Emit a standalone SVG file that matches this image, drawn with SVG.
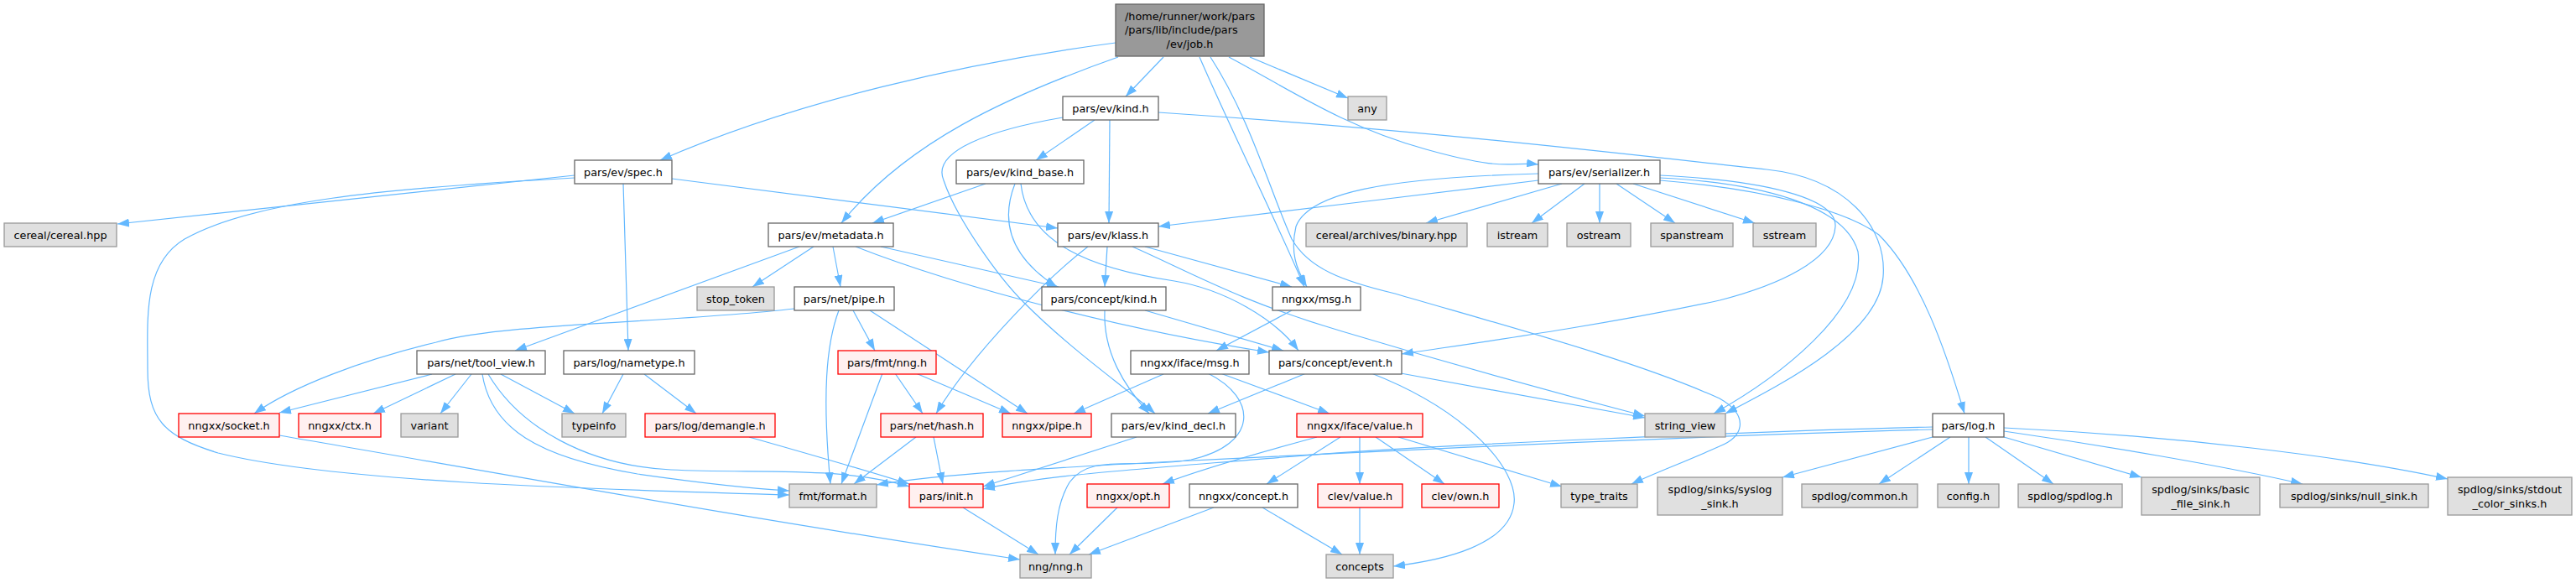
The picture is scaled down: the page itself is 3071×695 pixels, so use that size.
<svg xmlns="http://www.w3.org/2000/svg" width="3071" height="695" viewBox="0 0 3071 695">
<style>
.n rect{stroke-width:1.3}
.w rect{fill:#ffffff;stroke:#666666}
.g rect{fill:#e0e0e0;stroke:#999999}
.r rect{fill:#fff0f0;stroke:#ff0000}
.m rect{fill:#999999;stroke:#666666}
text{font-family:"DejaVu Sans","Liberation Sans",sans-serif;font-size:12.8px;fill:#000000;text-anchor:middle}
.e path{fill:none;stroke:#63b8ff;stroke-width:1.2;marker-end:url(#ah)}
</style>
<defs>
<marker id="ah" viewBox="0 0 14 10" refX="14" refY="5" markerWidth="14" markerHeight="10" orient="auto" markerUnits="userSpaceOnUse">
<path d="M0,0 L14,5 L0,10 z" fill="#63b8ff"/>
</marker>
</defs>
<rect width="3071" height="695" fill="#ffffff"/>
<g id="edges" class="e">
<path d="M1330,51 C1150,75 950,120 787,191"/>
<path d="M1333,68 C1200,115 1080,170 1003,266"/>
<path d="M1387,68 L1342,115"/>
<path d="M1490,68 L1607,117"/>
<path d="M1465,68 C1540,108 1600,150 1700,178 S1800,192 1834,196"/>
<path d="M1430,68 C1470,160 1520,260 1555,342"/>
<path d="M1443,68 C1490,140 1515,230 1540,285 C1560,320 1600,335 1663,350 C1800,390 1950,430 2050,475 C2085,495 2080,520 2050,532 C2010,550 1970,565 1945,577"/>
<path d="M1305,143 L1235,191"/>
<path d="M1323,143 L1322,266"/>
<path d="M1267,140 C1180,155 1110,180 1125,215 C1140,260 1190,330 1220,360 C1280,420 1340,460 1377,493"/>
<path d="M1381,134 C1700,155 1950,185 2106,202 C2200,212 2250,270 2245,330 C2240,400 2120,460 2057,493"/>
<path d="M685,209 L140,267"/>
<path d="M685,212 C450,225 300,240 220,285 C170,315 176,380 176,440 C176,500 195,520 260,540 C400,575 700,583 941,590"/>
<path d="M801,213 L1261,272"/>
<path d="M743,219 L749,418"/>
<path d="M1175,219 L1040,266"/>
<path d="M1210,219 C1190,270 1210,310 1260,342"/>
<path d="M1217,219 C1225,290 1300,320 1400,335 C1460,345 1520,380 1548,418"/>
<path d="M970,294 L897,342"/>
<path d="M993,294 L1002,342"/>
<path d="M953,294 L614,418"/>
<path d="M1050,294 L1262,342"/>
<path d="M1020,294 C1150,345 1350,395 1513,420"/>
<path d="M1297,294 C1250,330 1160,420 1116,493"/>
<path d="M1320,294 L1317,342"/>
<path d="M1365,294 L1540,342"/>
<path d="M1350,294 C1420,325 1480,360 1600,395 C1750,440 1880,475 1961,496"/>
<path d="M1834,215 C1700,232 1500,255 1381,270"/>
<path d="M1834,207 C1650,212 1560,230 1545,270 C1538,300 1545,320 1558,342"/>
<path d="M1862,219 L1700,266"/>
<path d="M1889,219 L1826,266"/>
<path d="M1907,219 L1907,266"/>
<path d="M1927,219 L1997,266"/>
<path d="M1947,219 L2092,266"/>
<path d="M1979,209 C2100,215 2190,235 2188,270 C2186,310 2120,340 2050,358 C1900,390 1750,410 1671,422"/>
<path d="M1979,212 C2100,218 2200,245 2215,300 C2225,370 2120,450 2043,493"/>
<path d="M1979,215 C2100,225 2200,250 2240,280 C2290,330 2320,420 2342,493"/>
<path d="M947,368 C800,385 600,385 520,408 C430,430 350,460 303,493"/>
<path d="M1017,370 L1043,418"/>
<path d="M1037,370 L1225,493"/>
<path d="M1000,370 C985,410 980,470 990,577"/>
<path d="M515,446 L333,492"/>
<path d="M543,446 L445,493"/>
<path d="M562,446 L525,493"/>
<path d="M597,446 L685,493"/>
<path d="M575,446 C585,510 640,545 760,565 C830,575 890,582 941,585"/>
<path d="M582,446 C620,510 700,555 800,560 C900,565 1000,555 1084,580"/>
<path d="M1067,445 L1100,493"/>
<path d="M1092,445 L1205,493"/>
<path d="M1052,445 L1003,577"/>
<path d="M1092,521 L1018,577"/>
<path d="M1113,521 L1124,577"/>
<path d="M743,446 L718,493"/>
<path d="M768,446 L830,493"/>
<path d="M893,521 C960,540 1030,560 1084,577"/>
<path d="M333,519 C600,565 900,620 1216,667"/>
<path d="M1387,446 L1280,493"/>
<path d="M1455,445 L1585,493"/>
<path d="M1440,445 C1500,475 1500,530 1420,548 C1350,560 1300,540 1275,575 C1260,600 1258,630 1258,661"/>
<path d="M1540,370 L1450,418"/>
<path d="M1317,370 C1315,420 1340,460 1370,493"/>
<path d="M1365,370 L1530,418"/>
<path d="M1557,445 L1440,493"/>
<path d="M1670,445 L1961,498"/>
<path d="M1635,445 C1750,490 1810,560 1805,600 C1800,650 1720,668 1661,675"/>
<path d="M1598,521 L1510,577"/>
<path d="M1570,521 C1500,540 1430,560 1386,577"/>
<path d="M1621,521 L1621,577"/>
<path d="M1640,521 L1722,577"/>
<path d="M1667,521 L1862,580"/>
<path d="M1621,605 L1621,661"/>
<path d="M1505,605 L1600,661"/>
<path d="M1447,605 L1298,661"/>
<path d="M1332,605 L1275,661"/>
<path d="M1148,605 L1238,661"/>
<path d="M1355,521 L1172,580"/>
<path d="M2304,509 C2100,514 1700,530 1530,545 C1350,560 1250,566 1172,583"/>
<path d="M2304,512 C2000,520 1600,540 1400,550 C1250,558 1120,565 1045,578"/>
<path d="M2304,521 L2125,569"/>
<path d="M2325,521 L2240,577"/>
<path d="M2347,521 L2347,577"/>
<path d="M2367,521 L2448,577"/>
<path d="M2389,521 L2553,569"/>
<path d="M2389,514 C2500,530 2650,555 2745,577"/>
<path d="M2389,510 C2600,520 2800,545 2918,571"/>
</g>
<g id="job" class="n m"><rect x="1330" y="5" width="177" height="62"/><text x="1341" y="23.5" style="text-anchor:start">/home/runner/work/pars</text><text x="1341" y="40.2" style="text-anchor:start">/pars/lib/include/pars</text><text x="1418.5" y="57">/ev/job.h</text></g>
<g id="kind" class="n w"><rect x="1267" y="115" width="114" height="28"/><text x="1324" y="133.7">pars/ev/kind.h</text></g>
<g id="any" class="n g"><rect x="1607" y="115" width="46" height="28"/><text x="1630" y="133.7">any</text></g>
<g id="spec" class="n w"><rect x="685" y="191" width="116" height="28"/><text x="743" y="209.7">pars/ev/spec.h</text></g>
<g id="kind_base" class="n w"><rect x="1140" y="191" width="152" height="28"/><text x="1216" y="209.7">pars/ev/kind_base.h</text></g>
<g id="serializer" class="n w"><rect x="1834" y="191" width="145" height="28"/><text x="1906.5" y="209.7">pars/ev/serializer.h</text></g>
<g id="cereal" class="n g"><rect x="5" y="266" width="134" height="28"/><text x="72" y="284.7">cereal/cereal.hpp</text></g>
<g id="metadata" class="n w"><rect x="916" y="266" width="149" height="28"/><text x="990.5" y="284.7">pars/ev/metadata.h</text></g>
<g id="klass" class="n w"><rect x="1261" y="266" width="120" height="28"/><text x="1321" y="284.7">pars/ev/klass.h</text></g>
<g id="binary" class="n g"><rect x="1557" y="266" width="192" height="28"/><text x="1653" y="284.7">cereal/archives/binary.hpp</text></g>
<g id="istream" class="n g"><rect x="1773" y="266" width="72" height="28"/><text x="1809" y="284.7">istream</text></g>
<g id="ostream" class="n g"><rect x="1868" y="266" width="76" height="28"/><text x="1906" y="284.7">ostream</text></g>
<g id="spanstream" class="n g"><rect x="1968" y="266" width="98" height="28"/><text x="2017" y="284.7">spanstream</text></g>
<g id="sstream" class="n g"><rect x="2090" y="266" width="75" height="28"/><text x="2127.5" y="284.7">sstream</text></g>
<g id="stop_token" class="n g"><rect x="831" y="342" width="92" height="28"/><text x="877" y="360.7">stop_token</text></g>
<g id="net_pipe" class="n w"><rect x="947" y="342" width="119" height="28"/><text x="1006.5" y="360.7">pars/net/pipe.h</text></g>
<g id="concept_kind" class="n w"><rect x="1242" y="342" width="148" height="28"/><text x="1316" y="360.7">pars/concept/kind.h</text></g>
<g id="nngxx_msg" class="n w"><rect x="1517" y="342" width="105" height="28"/><text x="1569.5" y="360.7">nngxx/msg.h</text></g>
<g id="tool_view" class="n w"><rect x="497" y="418" width="153" height="28"/><text x="573.5" y="436.7">pars/net/tool_view.h</text></g>
<g id="nametype" class="n w"><rect x="672" y="418" width="156" height="28"/><text x="750" y="436.7">pars/log/nametype.h</text></g>
<g id="fmt_nng" class="n r"><rect x="999" y="418" width="117" height="28"/><text x="1057.5" y="436.7">pars/fmt/nng.h</text></g>
<g id="iface_msg" class="n w"><rect x="1348" y="418" width="141" height="28"/><text x="1418.5" y="436.7">nngxx/iface/msg.h</text></g>
<g id="event" class="n w"><rect x="1513" y="418" width="158" height="28"/><text x="1592" y="436.7">pars/concept/event.h</text></g>
<g id="socket" class="n r"><rect x="213" y="493" width="120" height="28"/><text x="273" y="511.7">nngxx/socket.h</text></g>
<g id="ctx" class="n r"><rect x="356" y="493" width="98" height="28"/><text x="405" y="511.7">nngxx/ctx.h</text></g>
<g id="variant" class="n g"><rect x="478" y="493" width="68" height="28"/><text x="512" y="511.7">variant</text></g>
<g id="typeinfo" class="n g"><rect x="670" y="493" width="76" height="28"/><text x="708" y="511.7">typeinfo</text></g>
<g id="demangle" class="n r"><rect x="769" y="493" width="155" height="28"/><text x="846.5" y="511.7">pars/log/demangle.h</text></g>
<g id="hash" class="n r"><rect x="1050" y="493" width="122" height="28"/><text x="1111" y="511.7">pars/net/hash.h</text></g>
<g id="nngxx_pipe" class="n r"><rect x="1195" y="493" width="106" height="28"/><text x="1248" y="511.7">nngxx/pipe.h</text></g>
<g id="kind_decl" class="n w"><rect x="1325" y="493" width="148" height="28"/><text x="1399" y="511.7">pars/ev/kind_decl.h</text></g>
<g id="iface_value" class="n r"><rect x="1546" y="493" width="150" height="28"/><text x="1621" y="511.7">nngxx/iface/value.h</text></g>
<g id="string_view" class="n g"><rect x="1961" y="493" width="96" height="28"/><text x="2009" y="511.7">string_view</text></g>
<g id="log" class="n w"><rect x="2304" y="493" width="85" height="28"/><text x="2346.5" y="511.7">pars/log.h</text></g>
<g id="fmt_format" class="n g"><rect x="941" y="577" width="104" height="28"/><text x="993" y="595.7">fmt/format.h</text></g>
<g id="init" class="n r"><rect x="1084" y="577" width="88" height="28"/><text x="1128" y="595.7">pars/init.h</text></g>
<g id="opt" class="n r"><rect x="1296" y="577" width="98" height="28"/><text x="1345" y="595.7">nngxx/opt.h</text></g>
<g id="nngxx_concept" class="n w"><rect x="1418" y="577" width="129" height="28"/><text x="1482.5" y="595.7">nngxx/concept.h</text></g>
<g id="clev_value" class="n r"><rect x="1571" y="577" width="101" height="28"/><text x="1621.5" y="595.7">clev/value.h</text></g>
<g id="clev_own" class="n r"><rect x="1695" y="577" width="92" height="28"/><text x="1741" y="595.7">clev/own.h</text></g>
<g id="type_traits" class="n g"><rect x="1861" y="577" width="91" height="28"/><text x="1906.5" y="595.7">type_traits</text></g>
<g id="syslog" class="n g"><rect x="1976" y="569" width="149" height="45"/><text x="2050.5" y="588">spdlog/sinks/syslog</text><text x="2050.5" y="604.5">_sink.h</text></g>
<g id="common" class="n g"><rect x="2148" y="577" width="138" height="28"/><text x="2217" y="595.7">spdlog/common.h</text></g>
<g id="config" class="n g"><rect x="2310" y="577" width="73" height="28"/><text x="2346.5" y="595.7">config.h</text></g>
<g id="spdlog" class="n g"><rect x="2406" y="577" width="124" height="28"/><text x="2468" y="595.7">spdlog/spdlog.h</text></g>
<g id="basic_file" class="n g"><rect x="2553" y="569" width="141" height="45"/><text x="2623.5" y="588">spdlog/sinks/basic</text><text x="2623.5" y="604.5">_file_sink.h</text></g>
<g id="null_sink" class="n g"><rect x="2718" y="577" width="177" height="28"/><text x="2806.5" y="595.7">spdlog/sinks/null_sink.h</text></g>
<g id="stdout" class="n g"><rect x="2918" y="569" width="148" height="45"/><text x="2992" y="588">spdlog/sinks/stdout</text><text x="2992" y="604.5">_color_sinks.h</text></g>
<g id="nng" class="n g"><rect x="1216" y="661" width="85" height="28"/><text x="1258.5" y="679.7">nng/nng.h</text></g>
<g id="concepts" class="n g"><rect x="1581" y="661" width="80" height="28"/><text x="1621" y="679.7">concepts</text></g>
</svg>
